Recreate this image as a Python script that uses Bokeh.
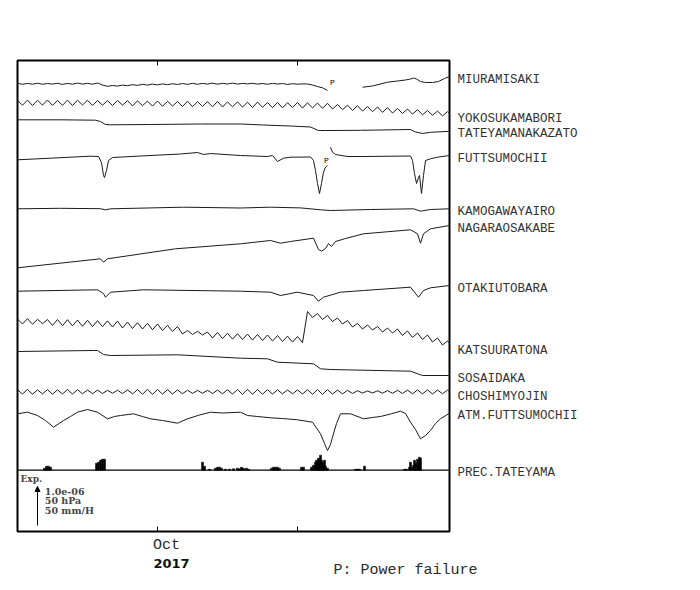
import numpy as np
from bokeh.plotting import figure
from bokeh.models import (Range1d, LinearAxis, FixedTicker, Label, Span, Arrow, NormalHead)
from bokeh.embed import file_html
from bokeh.resources import INLINE

# ---------------- data (time in days from 2017-10-01) ----------------
T_START, T_END = -14.0, 29.2
TICK_DAYS = [0, 14]
STEP = 0.5  # sampling interval (days) of the traces listed on a regular grid

NAMES = ["MIURAMISAKI", "YOKOSUKAMABORI", "TATEYAMANAKAZATO", "FUTTSUMOCHII",
         "KAMOGAWAYAIRO", "NAGARAOSAKABE", "OTAKIUTOBARA", "KATSUURATONA",
         "SOSAIDAKA", "CHOSHIMYOJIN", "ATM.FUTTSUMOCHII", "PREC.TATEYAMA"]

# MIURAMISAKI: regular grid part, gap (power failure), then irregular part
miura_a = [-2.8, -3.8, -2.9, -3.7, -2.7, -3.8, -3.0, -3.6, -2.8, -3.9, -2.9, -3.7, -2.6, -3.6, -2.8, -3.7, -2.5,
           -4.5, -5.8, -5.0, -5.6, -4.6, -5.2, -4.2, -4.9, -3.8, -4.6, -3.6, -4.4, -3.4, -4.2,
           -3.2, -4.0, -3.0, -3.9, -2.8, -3.8, -2.9, -3.6, -2.7, -3.7, -2.8, -3.5, -2.6, -3.6, -2.9,
           -3.4, -2.8, -3.6, -3.0, -3.8, -2.9, -3.5, -3.1, -3.9, -3.2, -3.7, -3.4,
           -3.5, -4.5, -6.0, -7.3, -10.0]
miura_b_t = [20.5, 21.5, 23.0, 24.0, 24.8, 25.3, 25.6, 25.9, 26.3, 26.8, 27.5, 28.1, 28.7, 29.2]
miura_b_v = [-6.7, -5.5, -1.7, -0.5, 0.5, 1.5, 2.5, 1.5, -1.0, -2.0, -2.0, -1.0, 2.0, 4.0]

yokosuka_v = [5.0, 0.3, 5.4, 0.0, 5.2, 0.4, 5.5, 0.1, 5.1, 0.2, 5.4, 0.0, 5.3, 0.5, 5.2, 0.1, 5.0, 0.3, 4.8, 0.0, 5.1, 0.4,
              4.8, -0.4, 4.6, -0.2, 4.4, -0.6, 4.5, -0.8, 4.2, -0.5, 4.0, -1.0, 4.3, -1.2, 3.9, -0.9, 3.8, -1.3, 4.0, -1.5, 3.6, -1.2,
              3.6, -1.6, 3.3, -2.0, 3.4, -1.8, 3.0, -2.2, 3.2, -2.4, 2.8, -2.0, 3.0, -2.6, 2.6, -2.3, 2.4, -2.8, 2.2,
              -3.5, 1.0, -4.2, 0.3, -5.0, -0.2, -5.6, -1.0, -6.2, -1.5, -6.8, -2.2, -7.5, -3.0,
              -8.0, -3.5, -8.6, -4.2, -9.3, -5.0, -9.8, -5.6, -10.4, -6.2, -10.8]

tateyama_t = [-14, -9.7, -6.2, -5.7, -5.2, -4.7, -0.7, 4.3, 8.3, 10.6, 13.3, 15.3, 16.1, 16.8, 20.3, 25.3, 25.8, 26.5, 27.3, 29.2]
tateyama_v = [5.7, 5.7, 5.3, 4.0, 1.0, 0.7, 1.0, 1.5, 1.5, 0.5, -0.5, -1.5, -5.0, -5.0, -4.8, -4.0, -6.5, -8.0, -6.8, -5.8]

futtsu_a_t = [-14.0, -10.7, -6.7, -5.9, -5.6, -5.4, -5.3, -5.1, -4.9, -4.5, -1.7, 2.3, 4.0, 4.6, 5.3, 8.3, 11.0, 11.5,
              12.0, 12.6, 13.3, 15.3, 15.6, 15.8, 16.0, 16.2, 16.4, 16.6, 16.8, 17.0]
futtsu_a_v = [-4.3, -2.7, -0.7, -1.0, -7.0, -20.0, -22.0, -15.0, -5.0, -2.0, -0.5, 1.5, 3.0, 1.0, 2.0, 0.0, -1.0, 0.0,
              -6.0, -2.7, -1.7, -1.5, -5.0, -15.0, -28.0, -38.0, -28.0, -16.7, -11.7, -10.0]
futtsu_b_t = [17.3, 17.5, 17.8, 19.0, 20.6, 25.3, 25.5, 25.7, 25.9, 26.1, 26.2, 26.4, 26.6, 26.8, 27.3, 28.0, 29.2]
futtsu_b_v = [8.3, 3.3, 1.0, -1.0, -1.0, -0.5, -5.0, -18.0, -28.0, -22.0, -20.0, -38.0, -20.0, -5.0, -3.3, -1.7, 0.0]

kamogawa_t = [-14, -9.7, -5.7, -5.2, -4.7, 2.6, 8.3, 11.3, 14.3, 16.3, 17.3, 21.3, 25.6, 26.3, 27.3, 29.2]
kamogawa_v = [-0.3, 0.2, -0.2, -1.3, -0.3, 1.3, 0.5, 1.3, 0.6, -1.3, -2.0, -1.0, -0.3, -2.7, -1.0, -0.3]

nagara_t = [-14, -5.7, -5.4, -5.0, 1.8, 8.3, 11.3, 12.3, 13.3, 15.6, 16.1, 16.4, 16.8, 17.1, 17.4, 17.8, 18.8, 20.6,
            25.3, 26.0, 26.3, 26.6, 27.3, 29.2]
nagara_v = [-27.3, -18.3, -21.7, -18.3, -8.3, -3.3, 0.0, -2.7, -1.0, 2.3, -9.0, -10.7, -8.0, -3.0, -6.0, -1.0, 2.0, 6.7,
            10.7, 6.7, -2.7, 6.7, 11.7, 15.0]

otaki_t = [-14, -6.0, -5.4, -5.2, -4.7, -1.4, 8.3, 11.3, 12.3, 14.0, 15.6, 16.1, 16.6, 18.3, 20.6, 25.3, 26.1, 26.6, 27.3, 29.2]
otaki_v = [-0.7, 0.7, -3.0, -6.7, -1.7, 0.7, -0.7, -1.7, -5.0, -1.7, -5.0, -10.7, -6.7, -1.7, 0.0, 3.3, -6.7, 0.0, 2.7, 5.0]

katsuura_v = [11.5, 6.5, 11.8, 6.3, 11.2, 6.8, 11.0,
              5.0, 11.0, 4.8, 10.8, 4.6, 10.5, 4.2, 10.2, 4.0, 9.8, 3.8, 9.6, 3.5, 9.4,
              2.5, 8.5, 2.0, 7.8, 1.5, 7.2, 0.8, 6.5, 0.0, 5.2, -1.0, 4.0,
              -3.5, 0.0, -4.0, -0.8, -4.5,
              -1.5, -7.5, -2.0, -8.0, -2.8, -8.6, -3.2, -9.0, -3.6, -9.6, -4.0, -10.0, -4.5, -10.6, -5.0, -11.0, -5.6, -11.6, -6.0, -12.2,
              19.0, 13.0, 17.0, 11.0, 15.0, 9.0, 12.5, 6.5, 10.0,
              3.5, 7.0, 1.5, 5.5, 0.5, 4.0, -1.5, 2.5, -2.5, 1.5,
              -5.0, -0.5, -7.0, -2.5, -9.0, -4.5, -11.5, -7.5, -14.5, -10.5, -17.0]

sosaidaka_t = [-14, -6.4, -6.0, -5.4, -4.7, 2.0, 8.3, 11.0, 12.0, 15.6, 16.3, 17.3, 25.3, 26.5, 29.2]
sosaidaka_v = [9.0, 10.0, 10.0, 6.0, 5.0, 5.7, 2.3, 1.7, -1.7, -3.3, -8.3, -9.0, -10.7, -15.0, -15.0]

choshi_v = [1.8, -2.5, 2.0, -2.7, 1.6, -2.4, 1.9, -2.8, 1.7, -2.5,
            2.1, -2.6, 1.8, -2.3, 1.5, -2.2, 1.4, -2.0, 1.2, -1.8,
            1.3, -2.1, 1.6, -2.4, 1.9, -2.7, 2.1, -2.8, 2.0, -2.6,
            1.8, -2.5, 1.6, -2.2, 1.3, -1.9, 1.1, -1.8, 1.2, -2.0,
            1.5, -2.3, 1.8, -2.6, 2.0, -2.9, 2.2, -2.8, 2.0, -2.7,
            1.9, -2.6, 1.7, -2.4, 1.5, -2.3, 1.6, -2.5, 1.8, -2.8,
            2.0, -2.9, 1.9, -2.7, 1.5, -2.4, 1.2, -2.0, 0.8, -1.6,
            0.6, -1.5, 0.7, -1.7, 0.9, -1.8, 1.2, -2.0, 1.4, -2.3,
            1.6, -2.4, 1.7, -2.5, 1.5, -2.3, 1.4, -2.2]

atm_t = [-14, -13, -12, -11.2, -10.4, -9.4, -8.7, -8.0, -7.0, -6.0, -5.0, -4.3, -3.7, -2.4, -1.5, -0.7, 0.5, 2.0, 3.0,
         4.2, 5.3, 6.5, 8.3, 9.0, 10.0, 11.3, 12.5, 14.0, 15.5, 16.3, 16.7, 17.0, 17.3, 17.5, 17.9, 18.3, 19.3, 20.6,
         21.5, 22.3, 23.3, 24.3, 24.8, 25.3, 25.8, 26.3, 26.8, 27.3, 27.8, 28.3, 29.2]
atm_v = [1.7, 3.3, 0.0, -5.0, -11.7, -5.0, -1.0, 3.3, 6.0, 3.3, -3.3, -1.0, 0.0, 1.7, -1.0, -3.3, -5.0, -7.7, -3.3,
         0.5, 3.3, 2.5, 3.3, 0.0, -1.0, -2.3, -3.0, -4.3, -6.7, -18.3, -28.0, -35.0, -29.0, -21.7, -8.0, 1.7, 1.7, -3.3,
         -2.0, -1.0, 1.5, 4.3, 2.0, -6.7, -14.0, -23.3, -20.0, -15.0, -8.0, -3.3, 2.3]

prec_t = [-11.3, -11.1, -10.9, -10.7, -6.1, -5.9, -5.7, -5.5, -5.3, 4.5, 4.7, 5.2, 5.8, 6.0, 6.2, 6.4,
          6.8, 7.2, 7.6, 8.0, 8.2, 8.4, 8.6, 8.9, 9.1, 11.4, 11.6, 11.8, 12.0, 12.2, 14.4, 14.6,
          15.4, 15.6, 15.8, 15.9, 16.0, 16.1, 16.2, 16.3, 16.4, 16.5, 16.6, 16.7, 16.8, 17.0,
          19.8, 20.0, 20.2, 20.7, 24.7, 24.9, 25.2, 25.3, 25.4, 25.6, 25.7, 25.8, 26.0, 26.1, 26.2, 26.3]
prec_v = [2, 4, 4, 3, 7, 8, 10, 11, 11, 8, 4, 1, 2, 3, 3, 2,
          1, 1, 1.5, 2, 1.5, 3, 2, 2, 1, 2, 3, 3, 3, 2, 3, 3,
          3, 5, 8, 10, 7, 12, 9, 15, 10, 8, 6, 10, 4, 2,
          1, 1, 1, 4, 1, 1, 3, 8, 3, 5, 10, 7, 11, 6, 13, 12]

POWER_FAIL = [("MIURAMISAKI", 17.5), ("FUTTSUMOCHII", 16.9)]
SCALE_TEXT = ["1.0e-06", "50 hPa", "50 mm/H"]
MONTH_LABEL, YEAR_LABEL = "Oct", "2017"
NOTE = "P: Power failure"

# ---------------- layout (positions / styles) ----------------
OFFSETS = [451, 426, 406, 376, 323, 291, 241, 201, 171, 140, 116, 61.3]
SCALE_LEN = 39
PF_DY = [-2, -5]
MONO = "Liberation Mono"
INK = "#2a2a2a"


def grid(vals):
    return list(T_START + STEP * np.arange(len(vals)))


nan = float("nan")
series = {
    "MIURAMISAKI": (grid(miura_a) + [17.2] + miura_b_t, miura_a + [nan] + miura_b_v),
    "YOKOSUKAMABORI": (grid(yokosuka_v), yokosuka_v),
    "TATEYAMANAKAZATO": (tateyama_t, tateyama_v),
    "FUTTSUMOCHII": (futtsu_a_t + [17.15] + futtsu_b_t, futtsu_a_v + [nan] + futtsu_b_v),
    "KAMOGAWAYAIRO": (kamogawa_t, kamogawa_v),
    "NAGARAOSAKABE": (nagara_t, nagara_v),
    "OTAKIUTOBARA": (otaki_t, otaki_v),
    "KATSUURATONA": (grid(katsuura_v), katsuura_v),
    "SOSAIDAKA": (sosaidaka_t, sosaidaka_v),
    "CHOSHIMYOJIN": (grid(choshi_v), choshi_v),
    "ATM.FUTTSUMOCHII": (atm_t, atm_v),
}

p = figure(width=692, height=582, x_range=Range1d(T_START, T_END), y_range=Range1d(0, 471),
           output_backend="svg", toolbar_location=None,
           x_axis_location=None, y_axis_location=None,
           min_border_left=17, min_border_right=243, min_border_top=60, min_border_bottom=51)
p.xgrid.visible = False
p.ygrid.visible = False
p.outline_line_color = "black"
p.outline_line_width = 2
p.background_fill_color = "white"
p.border_fill_color = "white"

# frame ticks (inward), top and bottom
for loc in ("below", "above"):
    ax = LinearAxis(ticker=FixedTicker(ticks=TICK_DAYS), major_tick_in=5, major_tick_out=0,
                    major_tick_line_width=1, minor_tick_line_color=None, axis_line_color=None,
                    major_label_text_font_size="0px", major_label_text_color=None,
                    major_label_standoff=0)
    p.add_layout(ax, loc)


def text_axis(pos, text, standoff, font, size, style="normal", color=INK):
    return LinearAxis(ticker=FixedTicker(ticks=[pos]), major_label_overrides={pos: text},
                      major_tick_line_color=None, minor_tick_line_color=None, axis_line_color=None,
                      major_label_standoff=standoff, major_label_text_font=font,
                      major_label_text_font_style=style, major_label_text_font_size=size,
                      major_label_text_color=color)


# month / year labels and the note, as label-only axes below the frame
p.add_layout(text_axis(TICK_DAYS[0] + 0.9, MONTH_LABEL, -1, MONO, "15px"), "below")
p.add_layout(text_axis(TICK_DAYS[0] + 1.4, YEAR_LABEL, -4, "DejaVu Sans", "13px", "bold", "#111"), "below")
p.add_layout(text_axis(24.8, NOTE, -15, MONO, "15px"), "below")

label_y = []
for name, off in zip(NAMES, OFFSETS):
    if name in series:
        t, v = series[name]
        y = [off + vv for vv in v]
        p.line(t, y, line_color="#1a1a1a", line_width=1)
        label_y.append(off + v[-1])
    else:
        label_y.append(off)

# precipitation
prec_off = OFFSETS[NAMES.index("PREC.TATEYAMA")]
p.vbar(x=prec_t, width=0.2, bottom=prec_off, top=[prec_off + h for h in prec_v],
       fill_color="black", line_color="black", line_width=0.5)
p.add_layout(Span(location=prec_off, dimension="width", line_color="black", line_width=1.2))

# station names: right axis, one tick at each trace's end (text centred 3 px below)
name_ticks = [round(y - 3, 2) for y in label_y]
ax_r = LinearAxis(ticker=FixedTicker(ticks=name_ticks),
                  major_label_overrides={t: n for t, n in zip(name_ticks, NAMES)},
                  major_tick_line_color=None, minor_tick_line_color=None, axis_line_color=None,
                  major_label_standoff=2, major_label_text_font=MONO,
                  major_label_text_font_size="12.5px", major_label_text_color="#333")
p.add_layout(ax_r, "right")

# power failure marks
for (st, day), dy in zip(POWER_FAIL, PF_DY):
    off = OFFSETS[NAMES.index(st)]
    p.add_layout(Label(x=day, y=off, y_offset=dy, text="P", text_font=MONO,
                       text_font_size="8px", text_baseline="middle", text_align="center",
                       text_color="black"))

# scale
p.add_layout(Arrow(end=NormalHead(size=5, fill_color="black", line_color="black"),
                   x_start=-12, y_start=6, x_end=-12, y_end=6 + SCALE_LEN,
                   line_color="black", line_width=1))
p.add_layout(Label(x=-13.7, y=53, text="Exp.", text_font="DejaVu Serif", text_font_style="bold",
                   text_font_size="9px", text_baseline="middle"))
for k, s in enumerate(SCALE_TEXT):
    p.add_layout(Label(x=-11.27, y=40.3 - 9.6 * k, text=s, text_font="DejaVu Serif",
                       text_font_style="bold", text_font_size="9.5px", text_baseline="middle"))

open("out.html", "w").write(file_html(p, INLINE))
